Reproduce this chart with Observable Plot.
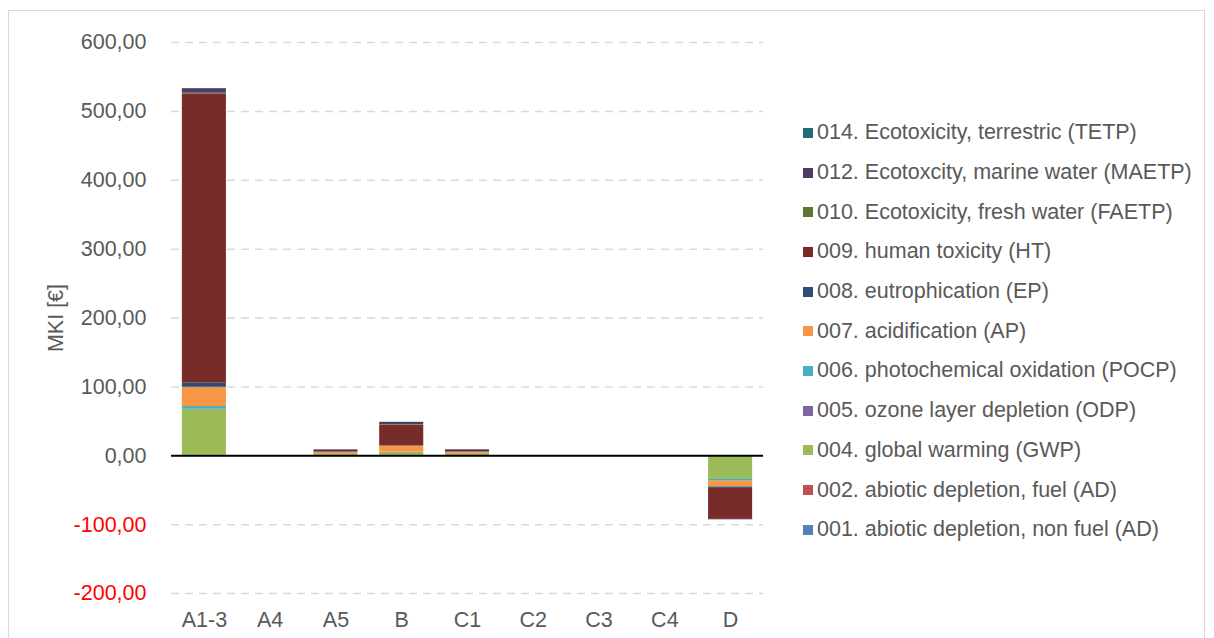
<!DOCTYPE html>
<html>
<head>
<meta charset="utf-8">
<script src="https://cdn.jsdelivr.net/npm/d3@7"></script>
<script src="https://cdn.jsdelivr.net/npm/@observablehq/plot@0.6"></script>
<style>
  html, body { margin: 0; padding: 0; background: #fff; }
  #wrap { position: relative; width: 1214px; height: 638px; overflow: hidden; font-family: "Liberation Sans", Arial, sans-serif; }
  #frame { position: absolute; left: 8px; top: 10px; width: 1197px; height: 700px; border: 1px solid #d9d9d9; box-sizing: border-box; }
  #chart { position: absolute; left: 0; top: 0; }
  #legend { position: absolute; left: 803px; top: 113px; color: #595959; font-size: 21.5px; }
  .item { height: 39.7px; display: flex; align-items: center; white-space: nowrap; }
  .sw { width: 10px; height: 10px; margin-right: 4px; flex: none; }
</style>
</head>
<body>
<div id="wrap"><div id="frame"></div><div id="chart"></div><div id="legend"></div></div>
<script>
const categories = ["A1-3", "A4", "A5", "B", "C1", "C2", "C3", "C4", "D"];
const seriesNames = [
  "001. abiotic depletion, non fuel (AD)",
  "002. abiotic depletion, fuel (AD)",
  "004. global warming (GWP)",
  "005. ozone layer depletion (ODP)",
  "006. photochemical oxidation (POCP)",
  "007. acidification (AP)",
  "008. eutrophication (EP)",
  "009. human toxicity (HT)",
  "010. Ecotoxicity, fresh water (FAETP)",
  "012. Ecotoxcity, marine water (MAETP)",
  "014. Ecotoxicity, terrestric (TETP)"
];
const seriesColors = ["#4f81bd", "#c0504d", "#9bbb59", "#8064a2", "#4bacc6", "#f79646", "#2c4d75", "#772c2a", "#5f7530", "#4d3b62", "#276a7c"];
// values per series, in category order
const ad_nonfuel = [0.3, 0, 0.1, 0.1, 0.1, 0, 0, 0, -0.1];
const ad_fuel    = [0.5, 0, 0.1, 0.2, 0.1, 0, 0, 0, -0.3];
const gwp        = [66.5, 0, 2.8, 4.5, 2.9, 0, 0, 0, -34];
const odp        = [0.1, 0, 0, 0.1, 0, 0, 0, 0, 0];
const pocp       = [4, 0, 0.3, 0.4, 0.3, 0, 0, 0, -2.5];
const ap         = [28, 0, 1.6, 8.5, 1.6, 0, 0, 0, -8.5];
const ep         = [6, 0, 0.4, 0.5, 0.4, 0, 0, 0, -2];
const ht         = [420, 0, 2.4, 30, 2.5, 0, 0, 0, -45];
const faetp      = [1, 0, 0.3, 0.8, 0.3, 0, 0, 0, 0];
const maetp      = [6.5, 0, 0.8, 3.4, 0.8, 0, 0, 0, -0.6];
const tetp       = [0.3, 0, 0.05, 0.1, 0.05, 0, 0, 0, 0];
const seriesValues = [ad_nonfuel, ad_fuel, gwp, odp, pocp, ap, ep, ht, faetp, maetp, tetp];
const posTicks = [0, 100, 200, 300, 400, 500, 600];
const negTicks = [-200, -100];

const data = [];
seriesNames.forEach((s, i) => categories.forEach((c, j) => data.push({cat: c, series: s, value: seriesValues[i][j]})));

const fmt = d => d3.format(".2f")(d).replace(".", ",").replace("−", "-");

const chart = Plot.plot({
  width: 790,
  height: 638,
  marginLeft: 171,
  marginRight: 27,
  marginTop: 42,
  marginBottom: 45,
  style: {fontFamily: "Liberation Sans, Arial, sans-serif", fontSize: "21.5px", color: "#595959", background: "transparent"},
  x: {domain: categories, paddingInner: 0.33, paddingOuter: 0.165, round: false, label: null},
  y: {domain: [-200, 600], label: null},
  color: {domain: seriesNames, range: seriesColors},
  marks: [
    Plot.ruleY([-200, -100, 100, 200, 300, 400, 500, 600], {stroke: "#d9d9d9", strokeWidth: 1.5, strokeDasharray: "8,6"}),
    Plot.barY(data, {x: "cat", y: "value", fill: "series", z: "series", order: seriesNames}),
    Plot.ruleY([0], {stroke: "#000", strokeWidth: 2}),
    Plot.axisX({tickSize: 0, tickPadding: 18, fill: "#595959", fontSize: 21.5}),
    Plot.axisY({ticks: posTicks, tickSize: 0, tickPadding: 25, tickFormat: fmt, fill: "#595959", fontSize: 21.5, label: "MKI [€]", labelAnchor: "center", labelOffset: 124, labelArrow: "none"}),
    Plot.axisY({ticks: negTicks, tickSize: 0, tickPadding: 25, tickFormat: fmt, fill: "#ff0000", fontSize: 21.5, label: null})
  ]
});
document.getElementById("chart").appendChild(chart);

const legend = document.getElementById("legend");
seriesNames.slice().reverse().forEach((s, k) => {
  const i = seriesNames.length - 1 - k;
  const item = document.createElement("div");
  item.className = "item";
  const sw = document.createElement("span");
  sw.className = "sw";
  sw.style.background = seriesColors[i];
  const t = document.createElement("span");
  t.textContent = s;
  item.appendChild(sw); item.appendChild(t);
  legend.appendChild(item);
});
</script>
</body>
</html>
